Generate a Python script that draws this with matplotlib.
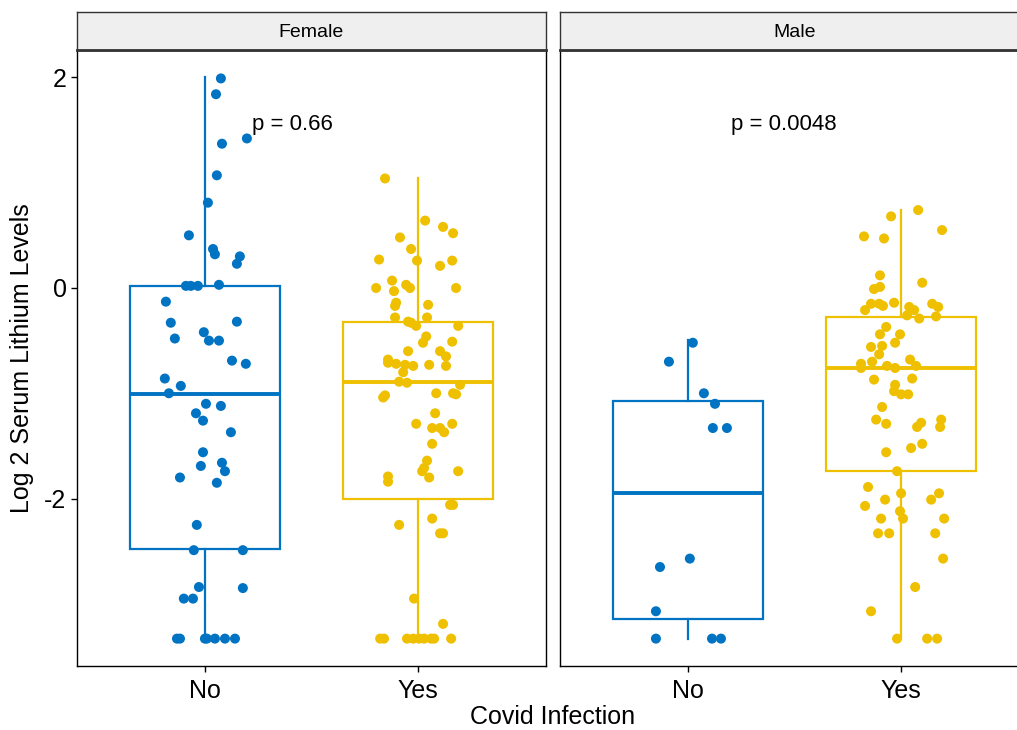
import numpy as np
import matplotlib.pyplot as plt

plt.rcParams['font.family'] = ['Liberation Sans', 'DejaVu Sans']
plt.rcParams['axes.unicode_minus'] = False

# groups and colours (jco palette)
sexes = ["Female", "Male"]
groups = ["No", "Yes"]
colors = {"No": "#0073C2", "Yes": "#EFC000"}
p_labels = {"Female": "p = 0.66", "Male": "p = 0.0048"}
p_label_x = {"Female": 1.41, "Male": 1.45}
p_label_y = 1.55

# box stats: (whislo, q1, med, q3, whishi)
box_stats = {
    ("Female", "No"): (-3.33, -2.48, -1.01, 0.02, 2.0),
    ("Female", "Yes"): (-3.33, -2.0, -0.89, -0.32, 1.04),
    ("Male", "No"): (-3.33, -3.14, -1.95, -1.07, -0.49),
    ("Male", "Yes"): (-3.33, -1.74, -0.76, -0.28, 0.74),
}

# jittered points: y values and horizontal jitter
fem_no_y = [1.99, 1.84, 1.37, 1.42, 1.07, 0.81, 0.50, 0.37, 0.32, 0.30, 0.23, 0.02, 0.02, 0.02,
            0.03, -0.13, -0.33, -0.32, -0.48, -0.42, -0.50, -0.50, -0.69, -0.72, -0.86, -0.93,
            -1.00, -1.10, -1.12, -1.19, -1.26, -1.37, -1.56, -1.69, -1.66, -1.74, -1.80, -1.85,
            -2.25, -2.49, -2.49, -2.84, -2.85, -2.95, -2.95, -3.33, -3.33, -3.33, -3.33, -3.33,
            -3.33, -3.33]
fem_no_j = [0.075, 0.052, 0.080, 0.197, 0.056, 0.014, -0.075, 0.038, 0.047, 0.164, 0.150, -0.089,
            -0.066, -0.033, 0.066, -0.183, -0.160, 0.150, -0.141, -0.005, 0.019, 0.066, 0.127,
            0.192, -0.188, -0.113, -0.169, 0.005, 0.075, -0.042, -0.009, 0.122, -0.009, -0.019,
            0.080, 0.094, -0.117, 0.056, -0.038, -0.052, 0.178, -0.028, 0.178, -0.099, -0.056,
            -0.131, -0.117, 0.0, 0.009, 0.047, 0.094, 0.141]

fem_yes_y = [1.04, 0.64, 0.58, 0.52, 0.48, 0.37, 0.27, 0.26, 0.26, 0.21, 0.07, 0.00, -0.03, 0.03,
             0.00, 0.00, -0.14, -0.17, -0.16, -0.28, -0.28, -0.32, -0.33, -0.36, -0.36, -0.46,
             -0.52, -0.51, -0.60, -0.68, -0.60, -0.65, -0.71, -0.72, -0.73, -0.74, -0.73, -0.74,
             -0.80, -0.89, -0.90, -0.92, -1.02, -1.04, -1.00, -1.00, -1.01, -1.19, -1.29, -1.33,
             -1.33, -1.37, -1.29, -1.48, -1.64, -1.74, -1.80, -1.71, -1.74, -1.79, -1.84, -2.06,
             -2.06, -2.19, -2.25, -2.33, -2.33, -2.95, -3.19, -3.33, -3.33, -3.33, -3.33, -3.33,
             -3.33, -3.33, -3.33, -3.33]
fem_yes_j = [-0.155, 0.033, 0.117, 0.164, -0.085, -0.033, -0.183, -0.005, 0.160, 0.103, -0.122,
             -0.197, -0.113, -0.056, -0.038, 0.178, -0.103, -0.108, 0.047, -0.108, 0.042, -0.047,
             -0.033, -0.009, 0.188, 0.038, 0.023, 0.160, -0.047, -0.141, 0.103, 0.131, -0.141,
             -0.103, -0.061, -0.023, 0.052, 0.131, -0.070, -0.089, -0.052, 0.197, -0.155, -0.164,
             0.085, 0.164, 0.178, 0.080, -0.009, 0.066, 0.103, 0.122, 0.160, 0.066, 0.042, 0.019,
             0.052, 0.028, 0.188, -0.141, -0.141, 0.150, 0.164, 0.066, -0.089, 0.103, 0.117,
             -0.019, 0.117, -0.178, -0.160, -0.052, -0.023, 0.005, 0.028, 0.061, 0.075, 0.155]

male_no_y = [-0.52, -0.70, -1.00, -1.10, -1.33, -1.33, -2.57, -2.65, -3.07, -3.33, -3.33, -3.33]
male_no_j = [0.023, -0.089, 0.075, 0.127, 0.117, 0.183, 0.009, -0.131, -0.150, -0.150, 0.113, 0.155]

male_yes_y = [0.74, 0.68, 0.55, 0.49, 0.47, 0.12, 0.05, 0.01, -0.01, -0.14, -0.15, -0.15, -0.17,
              -0.21, -0.15, -0.18, -0.18, -0.21, -0.26, -0.29, -0.27, -0.37, -0.44, -0.44, -0.52,
              -0.56, -0.55, -0.63, -0.72, -0.76, -0.70, -0.74, -0.76, -0.68, -0.74, -0.87, -0.86,
              -0.92, -0.98, -1.01, -1.01, -1.13, -1.25, -1.29, -1.32, -1.28, -1.25, -1.32, -1.56,
              -1.52, -1.48, -1.74, -1.89, -1.95, -1.95, -2.01, -2.01, -2.07, -2.12, -2.19, -2.19,
              -2.19, -2.33, -2.33, -2.33, -2.57, -2.84, -3.07, -3.33, -3.33, -3.33]
male_yes_j = [0.080, -0.047, 0.192, -0.174, -0.080, -0.099, 0.099, -0.099, -0.127, -0.033, -0.141,
              -0.103, -0.085, -0.169, 0.146, 0.174, 0.038, 0.061, 0.028, 0.085, 0.164, -0.070,
              -0.099, -0.005, -0.028, -0.141, -0.089, -0.103, -0.188, -0.188, -0.136, -0.066,
              -0.028, 0.042, 0.070, -0.127, 0.052, -0.028, -0.033, 0.0, 0.033, -0.089, -0.117,
              -0.070, 0.075, 0.094, 0.188, 0.183, -0.070, 0.047, 0.099, -0.019, -0.155, 0.0, 0.178,
              0.141, -0.075, -0.169, -0.005, 0.009, -0.094, 0.202, -0.108, -0.056, 0.160, 0.197,
              0.066, -0.141, -0.019, 0.122, 0.169]

points = {
    ("Female", "No"): (fem_no_j, fem_no_y),
    ("Female", "Yes"): (fem_yes_j, fem_yes_y),
    ("Male", "No"): (male_no_j, male_no_y),
    ("Male", "Yes"): (male_yes_j, male_yes_y),
}

W, H = 1017, 730
fig = plt.figure(figsize=(W / 100, H / 100), dpi=100)

panel_left = {"Female": 77, "Male": 560}
panel_w = 469
top, bottom = 50, 666
strip_top = 12

for i, sex in enumerate(sexes):
    x0 = panel_left[sex] / W
    ax = fig.add_axes([x0, 1 - bottom / H, panel_w / W, (bottom - top) / H])
    for k, g in enumerate(groups):
        lo, q1, med, q3, hi = box_stats[(sex, g)]
        st = [{"whislo": lo, "q1": q1, "med": med, "q3": q3, "whishi": hi, "fliers": []}]
        c = colors[g]
        ax.bxp(st, positions=[k + 1], widths=0.7, showcaps=False, showfliers=False,
               patch_artist=True,
               boxprops=dict(facecolor="white", edgecolor=c, linewidth=1.6),
               whiskerprops=dict(color=c, linewidth=1.6),
               medianprops=dict(color=c, linewidth=2.8),
               zorder=2)
        jit, yy = points[(sex, g)]
        ax.scatter(np.array(jit) + k + 1, yy, s=52, color=c, edgecolors="none", zorder=3)
    ax.text(p_label_x[sex], p_label_y, p_labels[sex], ha="center", va="center", fontsize=16)

    ax.set_xlim(0.4, 2.6)
    ax.set_ylim(-3.59, 2.26)
    ax.set_xticks([1, 2])
    ax.set_xticklabels(groups)
    ax.set_yticks([-2, 0, 2])
    ax.tick_params(axis="both", direction="out", length=4, width=1, labelsize=18, colors="black")
    ax.tick_params(axis="x", pad=5)
    if i > 0:
        ax.tick_params(axis="y", left=False, labelleft=False)
    for sp in ax.spines.values():
        sp.set_linewidth(1.0)
        sp.set_color("black")

    # facet strip
    sax = fig.add_axes([x0, 1 - top / H, panel_w / W, (top - strip_top) / H])
    sax.set_facecolor("#EFEFEF")
    sax.set_xticks([])
    sax.set_yticks([])
    for sp in sax.spines.values():
        sp.set_linewidth(1.0)
        sp.set_color("#333333")
    sax.spines["bottom"].set_linewidth(2.0)
    sax.text(0.5, 0.45, sex, ha="center", va="center", fontsize=14, transform=sax.transAxes)

fig.text(22 / W, 1 - 358 / H, "Log 2 Serum Lithium Levels", rotation=90, ha="center",
         va="center", fontsize=18)
fig.text(553 / W, 1 - 717 / H, "Covid Infection", ha="center", va="center", fontsize=18)

fig.savefig("out.png", dpi=100)
